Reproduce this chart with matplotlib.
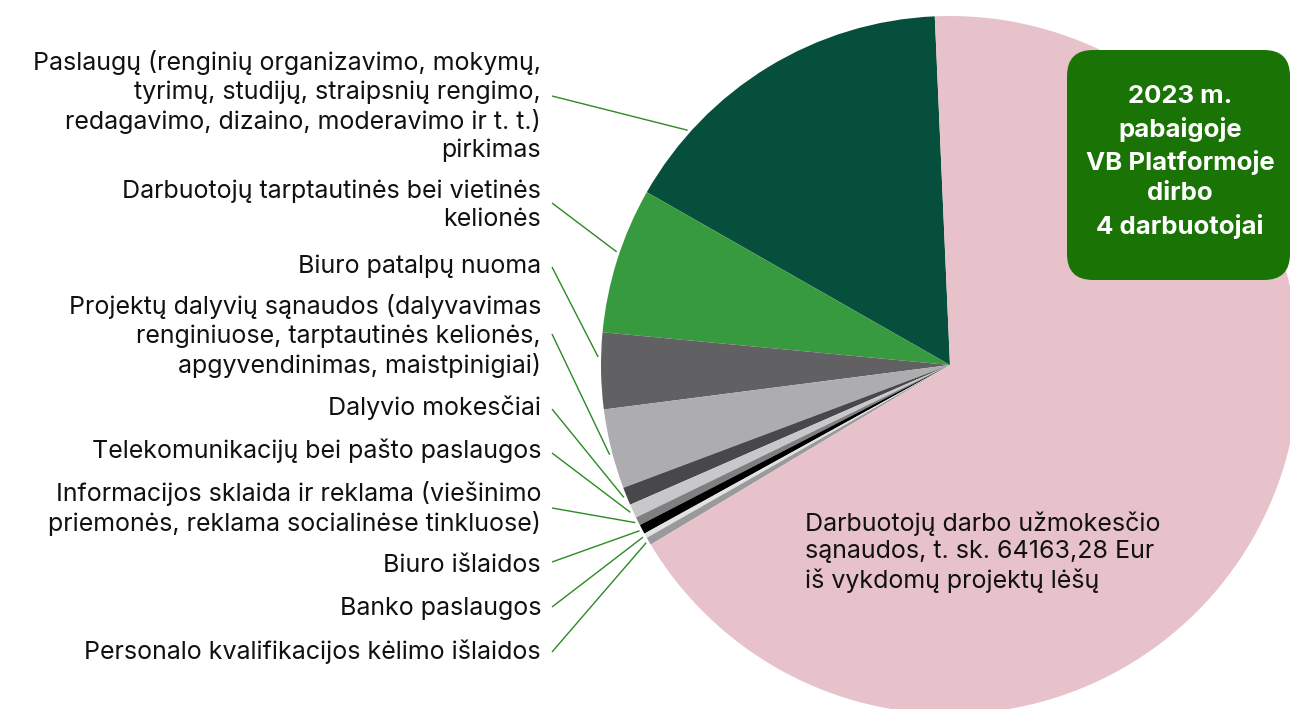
import matplotlib
matplotlib.use("Agg")
import matplotlib.pyplot as plt
import numpy as np
from matplotlib.patches import FancyBboxPatch

plt.rcParams['font.family'] = ['Inter', 'DejaVu Sans']

# ---- data (shares of expenses, %) ----
categories = [
    "Paslaugų (renginių organizavimo, mokymų,\ntyrimų, studijų, straipsnių rengimo,\nredagavimo, dizaino, moderavimo ir t. t.)\npirkimas",
    "Darbuotojų tarptautinės bei vietinės\nkelionės",
    "Biuro patalpų nuoma",
    "Projektų dalyvių sąnaudos (dalyvavimas\nrenginiuose, tarptautinės kelionės,\napgyvendinimas, maistpinigiai)",
    "Dalyvio mokesčiai",
    "Telekomunikacijų bei pašto paslaugos",
    "Informacijos sklaida ir reklama (viešinimo\npriemonės, reklama socialinėse tinkluose)",
    "Biuro išlaidos",
    "Banko paslaugos",
    "Personalo kvalifikacijos kėlimo išlaidos",
    "Darbuotojų darbo užmokesčio\nsąnaudos, t. sk. 64163,28 Eur\niš vykdomų projektų lėšų",
]
values = [16.06, 6.75, 3.53, 3.69, 0.83, 0.64, 0.39, 0.44, 0.22, 0.36, 67.09]
colors = ["#054F3C", "#389A3E", "#616163", "#ADADB0", "#48484A", "#C8C8CA",
          "#7F7F81", "#000000", "#E2E2E2", "#9A9A9C", "#E7C2CA"]
box_text = "2023 m.\npabaigoje\nVB Platformoje\ndirbo\n4 darbuotojai"

W, H = 1290, 709
fig = plt.figure(figsize=(W / 100, H / 100), dpi=100)
ax = fig.add_axes([0, 0, 1, 1])

cx, cy, R = 950, H - 365, 349
wedges, _ = ax.pie(values, colors=colors, startangle=92.5, counterclock=True,
                   center=(cx, cy), radius=R, frame=True,
                   wedgeprops=dict(linewidth=0))
ax.set_xlim(0, W)
ax.set_ylim(0, H)
ax.set_aspect('equal')
ax.axis('off')

# label layout (pixel positions, y from top)
label_y = [106, 205, 266, 336, 408, 451, 508, 566, 608, 652]
line_start_y = [96, 203, 267, 334, 409, 453, 508, 562, 607, 652]
anchor_frac = [0.79, 0.45, 0.32, 0.56, 0.5, 0.5, 0.5, 0.5, 0.5, 0.5]
fs = 18
for i in range(10):
    ax.text(541, H - label_y[i], categories[i], ha='right', va='center',
            fontsize=fs, color='#111111', linespacing=1.25)
    w = wedges[i]
    ang = np.deg2rad(w.theta1 + anchor_frac[i] * (w.theta2 - w.theta1))
    ex, ey = cx + 352 * np.cos(ang), cy + 352 * np.sin(ang)
    ax.plot([552, ex], [H - line_start_y[i], ey], color='#2C8A22', lw=1.0,
            solid_capstyle='butt')

ax.text(805, H - 552, categories[10], ha='left', va='center', fontsize=fs,
        color='#111111', linespacing=1.25)

box = FancyBboxPatch((1067, H - 280), 223, 230,
                     boxstyle="round,pad=0,rounding_size=26",
                     facecolor="#1A7305", edgecolor='none')
ax.add_patch(box)
ax.text(1180, H - 162, box_text, ha='center', va='center', fontsize=18.5,
        fontweight='bold', color='white', linespacing=1.42)

fig.savefig("out.png", dpi=100)
